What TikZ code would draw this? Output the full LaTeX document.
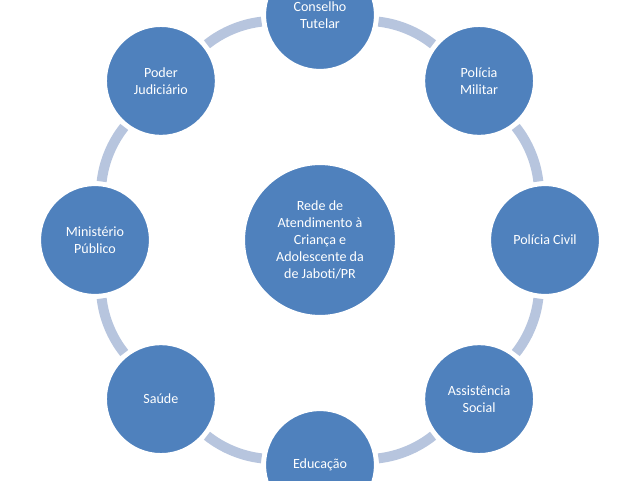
\documentclass[tikz,border=0pt]{standalone}
\usepackage{fontspec}
\setmainfont{Carlito}
\definecolor{nodeblue}{HTML}{4F81BD}
\definecolor{ringblue}{HTML}{B7C5DE}
\begin{document}
\begin{tikzpicture}[
  orb/.style={circle,fill=nodeblue,draw=white,line width=1.5pt,
    minimum size=2.75cm,text=white,align=center,font=\fontsize{10}{12}\selectfont},
  hub/.style={orb,minimum size=3.8cm},
  link/.style={ringblue,line width=0.25cm}]

  \useasboundingbox (-8,-6) rectangle (8,6);

  \node[hub] (rede) at (0,0) {Rede de\\Atendimento à\\Criança e\\Adolescente da\\de Jaboti/PR};
  \foreach \ang/\name/\txt in {90/cons/Conselho\\Tutelar, 45/pm/Polícia\\Militar,
      0/pc/Polícia Civil, -45/as/Assistência\\Social, -90/edu/Educação,
      -135/sau/Saúde, 180/mp/Ministério\\Público, 135/pj/Poder\\Judiciário}
    \node[orb] (\name) at (\ang:5.625) {\txt};

  \foreach \a/\b in {cons/pm,pm/pc,pc/as,as/edu,edu/sau,sau/mp,mp/pj,pj/cons}
    \draw[link,shorten <=2pt,shorten >=2pt] (\a) to[bend left=16,looseness=0.9] (\b);
\end{tikzpicture}
\end{document}
